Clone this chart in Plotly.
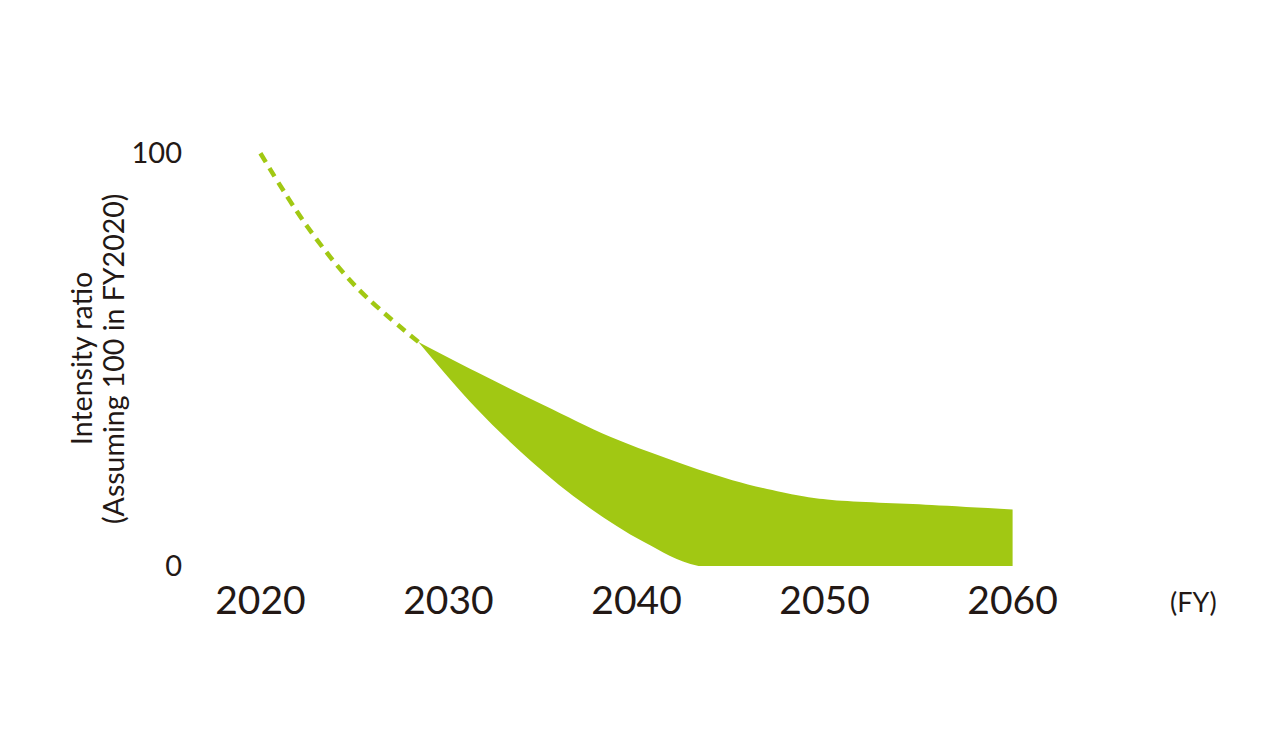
import plotly.graph_objects as go

# dashed path from FY2020 to the start of the band
dash_years = [2020, 2022.5, 2025.1, 2028.4]
dash_vals = [100, 82.2, 67.6, 54.3]

# upper edge of the band
upper_years = [2028.4, 2031.5, 2035.05, 2038.6, 2041.6, 2045.1, 2048.7, 2050.4, 2055.7, 2060]
upper_vals = [54.3, 47.0, 39.0, 31.3, 26.1, 20.8, 17.0, 16.0, 14.8, 13.7]

# lower edge of the band
lower_years = [2028.4, 2031.4, 2034.4, 2037.4, 2040.4, 2043.3, 2050, 2060]
lower_vals = [54.3, 38.6, 25.4, 14.4, 5.8, 0, 0, 0]

tick_years = [2020, 2030, 2040, 2050, 2060]
green = "#A1C813"
ink = "#231815"
font_family = "Lato"

W, H = 1288, 736
L, R, T, B = 243, 274, 137, 178
OFF = 8  # page body margin


def paper_x(px):
    return (px - OFF - L) / (W - L - R)


def paper_y(py):
    return (H - B - (py - OFF)) / (H - T - B)


fig = go.Figure()
fig.add_trace(go.Scatter(
    x=lower_years, y=lower_vals, mode="lines",
    line=dict(width=0, color=green, shape="spline", smoothing=1),
    hoverinfo="skip"))
fig.add_trace(go.Scatter(
    x=upper_years, y=upper_vals, mode="lines", fill="tonexty", fillcolor=green,
    line=dict(width=0, color=green, shape="spline", smoothing=1)))
fig.add_trace(go.Scatter(
    x=dash_years, y=dash_vals, mode="lines",
    line=dict(width=4.5, color=green, dash="10px,7px", shape="spline", smoothing=1)))

fig.update_layout(
    width=W, height=H, showlegend=False,
    paper_bgcolor="white", plot_bgcolor="white",
    margin=dict(l=L, r=R, t=T, b=B),
    font=dict(family=font_family, color=ink),
    xaxis=dict(range=[2019.5, 2060.5], tickvals=tick_years, ticktext=[str(y) for y in tick_years],
               showgrid=False, zeroline=False, showline=False, ticks="",
               tickfont=dict(size=39, color=ink), ticklabelstandoff=8),
    yaxis=dict(range=[0, 102], tickvals=[0, 100], ticktext=["0", "100"],
               showgrid=False, zeroline=False, showline=False, ticks="",
               tickfont=dict(size=29, color=ink), ticklabelstandoff=68),
    annotations=[
        dict(text="Intensity ratio", textangle=-90, x=paper_x(81), y=paper_y(359),
             xref="paper", yref="paper", xanchor="center", yanchor="middle",
             showarrow=False, font=dict(size=28.5, color=ink)),
        dict(text="(Assuming 100 in FY2020)", textangle=-90, x=paper_x(113), y=paper_y(359),
             xref="paper", yref="paper", xanchor="center", yanchor="middle",
             showarrow=False, font=dict(size=28.5, color=ink)),
        dict(text="(FY)", x=paper_x(1193), y=paper_y(601), xref="paper", yref="paper",
             xanchor="center", yanchor="middle", showarrow=False,
             font=dict(size=27, color=ink)),
    ],
)

fig.write_html("out.html")
